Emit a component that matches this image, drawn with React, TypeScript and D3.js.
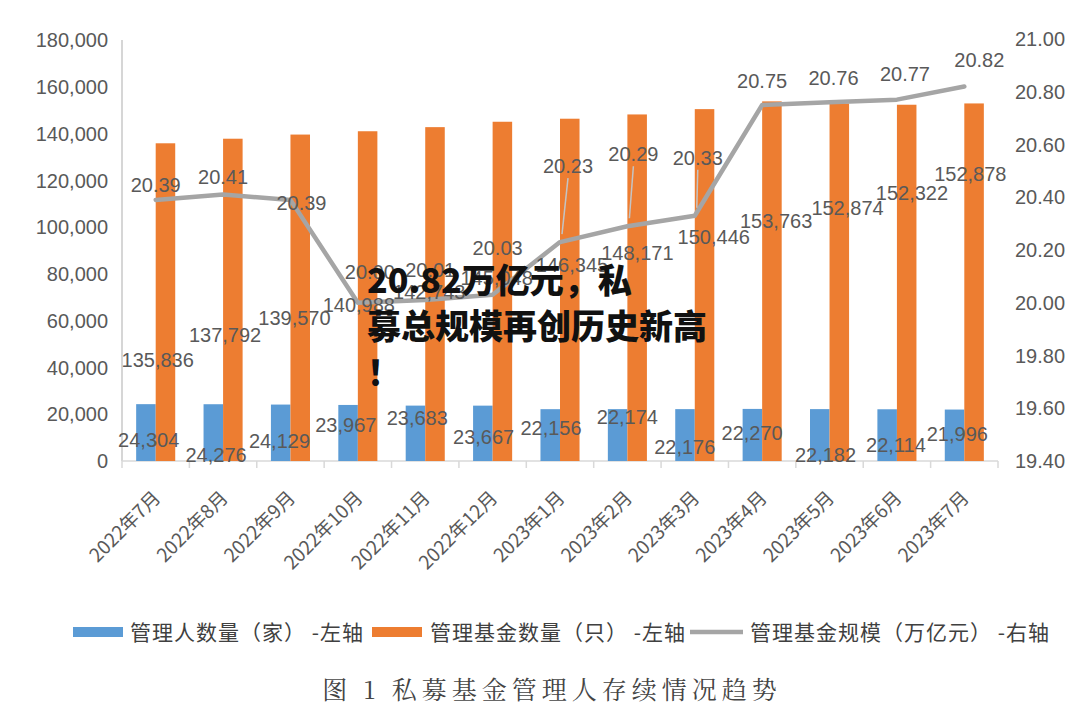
import React from 'react';
import * as d3 from 'd3';

// categories and series
const categories = [
  '2022年7月', '2022年8月', '2022年9月', '2022年10月', '2022年11月', '2022年12月',
  '2023年1月', '2023年2月', '2023年3月', '2023年4月', '2023年5月', '2023年6月', '2023年7月',
];
const managerCounts = [24304, 24276, 24129, 23967, 23683, 23667, 22156, 22174, 22176, 22270, 22182, 22114, 21996];
const fundCounts = [135836, 137792, 139570, 140988, 142743, 145048, 146345, 148171, 150446, 153763, 152874, 152322, 152878];
const fundScale = [20.39, 20.41, 20.39, 20.0, 20.01, 20.03, 20.23, 20.29, 20.33, 20.75, 20.76, 20.77, 20.82];

const leftTicks = [0, 20000, 40000, 60000, 80000, 100000, 120000, 140000, 160000, 180000];
const rightTicks = [19.4, 19.6, 19.8, 20.0, 20.2, 20.4, 20.6, 20.8, 21.0];

const legendNames = ['管理人数量（家） -左轴', '管理基金数量（只） -左轴', '管理基金规模（万亿元） -右轴'];
const titleLines = ['20.82万亿元，私', '募总规模再创历史新高', '！'];
const caption = '图 1  私募基金管理人存续情况趋势';

// data-label nudges (dx, dy) from each mark, like Excel's hand-placed labels
const lineLabelNudge: [number, number][] = [
  [0, -15], [0, -18], [11, 3], [12, -31], [5, -30], [5, -47], [8, -76], [6, -72], [3, -58],
  [0, -24], [4, -25], [8, -26], [15, -27],
];
const fundLabelNudge: [number, number][] = [
  [2, 217], [2, 196], [4, 183], [1, 174], [4, 165], [4, 156], [12, 146], [10, 138], [19, 128],
  [14, 119], [18, 104], [15, 88], [6, 70],
];
const managerLabelNudge: [number, number][] = [
  [-7, 36], [-7, 51], [-11, 36], [-12, 20], [-8, 12], [-9, 31], [-9, 19], [0, 8], [-10, 38],
  [-10, 24], [-4, 46], [-1, 36], [-7, 24],
];
const leaderLines = [6, 7, 8];

const BLUE = '#5B9BD5';
const ORANGE = '#ED7D31';
const GRAY = '#A5A5A5';
const TEXT = '#595959';
const NUM_FONT = '"Liberation Sans", Arial, sans-serif';
const CJK_FONT = '"Noto Sans CJK SC", "Noto Sans", sans-serif';

export default function App() {
  const width = 1080;
  const height = 713;
  const plot = { left: 122, right: 998, top: 40, bottom: 461 };

  const x = d3.scaleBand<string>().domain(categories).range([plot.left, plot.right]);
  const inner = d3.scaleBand<string>().domain(['m', 'f']).range([0, x.bandwidth()]).paddingOuter(0.725);
  const yL = d3.scaleLinear().domain([0, 180000]).range([plot.bottom, plot.top]);
  const yR = d3.scaleLinear().domain([19.4, 21.0]).range([plot.bottom, 39]);

  const cx = (c: string) => (x(c) || 0) + x.bandwidth() / 2;
  const line = d3.line<number>()
    .x((_, i) => cx(categories[i]))
    .y(d => yR(d));

  const fmtInt = d3.format(',');
  const fmtDec = d3.format('.2f');

  const legendX = [73, 372, 690];
  const legendTextX = [130, 430, 750];

  return (
    <div style={{ position: 'absolute', left: 0, top: 0, background: '#fff' }}>
      <svg width={width} height={height} viewBox={`0 0 ${width} ${height}`}>
        <rect width={width} height={height} fill="#fff" />

        {/* axes */}
        <line x1={plot.left} x2={plot.left} y1={plot.top} y2={plot.bottom} stroke="#c8c8c8" strokeWidth={1.5} />
        <line x1={plot.left} x2={plot.right} y1={plot.bottom} y2={plot.bottom} stroke="#d9d9d9" strokeWidth={1.5} />
        {categories.concat(['']).map((c, i) => {
          const tx = plot.left + i * x.step();
          return <line key={'t' + i} x1={tx} x2={tx} y1={plot.bottom} y2={plot.bottom + 7} stroke="#d9d9d9" strokeWidth={1.5} />;
        })}

        {leftTicks.map(t => (
          <text key={'l' + t} x={108} y={yL(t)} dy="0.36em" textAnchor="end"
            fontFamily={NUM_FONT} fontSize={20} fill={TEXT}>{fmtInt(t)}</text>
        ))}
        {rightTicks.map(t => (
          <text key={'r' + t} x={1015} y={yR(t)} dy="0.36em" textAnchor="start"
            fontFamily={NUM_FONT} fontSize={20} fill={TEXT}>{fmtDec(t)}</text>
        ))}

        {categories.map(c => (
          <text key={'x' + c} transform={`translate(${cx(c) + 6},${499}) rotate(-45)`} textAnchor="end"
            fontFamily={CJK_FONT} fontSize={19} fill={TEXT}>{c}</text>
        ))}

        {/* bars */}
        {categories.map((c, i) => (
          <g key={'b' + c} transform={`translate(${x(c)},0)`}>
            <rect x={inner('m')} width={inner.bandwidth()} y={yL(managerCounts[i])}
              height={plot.bottom - yL(managerCounts[i])} fill={BLUE} />
            <rect x={inner('f')} width={inner.bandwidth()} y={yL(fundCounts[i])}
              height={plot.bottom - yL(fundCounts[i])} fill={ORANGE} />
          </g>
        ))}

        {/* scale line */}
        <path d={line(fundScale) || ''} fill="none" stroke={GRAY} strokeWidth={4.5}
          strokeLinejoin="round" strokeLinecap="round" />

        {leaderLines.map(i => {
          const px = cx(categories[i]);
          const py = yR(fundScale[i]);
          const [dx, dy] = lineLabelNudge[i];
          return <line key={'ll' + i} x1={px + dx} y1={py + dy + 12} x2={px + 2} y2={py - 8}
            stroke="#c4c4c4" strokeWidth={1.5} />;
        })}

        {/* data labels */}
        {categories.map((c, i) => (
          <g key={'dl' + c} fontFamily={NUM_FONT} fontSize={20} fill={TEXT} textAnchor="middle">
            <text x={cx(c) + managerLabelNudge[i][0]} y={yL(managerCounts[i]) + managerLabelNudge[i][1]} dy="0.36em">
              {fmtInt(managerCounts[i])}
            </text>
            <text x={cx(c) + fundLabelNudge[i][0]} y={yL(fundCounts[i]) + fundLabelNudge[i][1]} dy="0.36em">
              {fmtInt(fundCounts[i])}
            </text>
            <text x={cx(c) + lineLabelNudge[i][0]} y={yR(fundScale[i]) + lineLabelNudge[i][1]} dy="0.36em">
              {fmtDec(fundScale[i])}
            </text>
          </g>
        ))}

        {/* overlaid headline */}
        {titleLines.map((t, i) => (
          <text key={'h' + i} x={367} y={293 + i * 46} fontFamily={CJK_FONT} fontWeight={900}
            fontSize={34} fill="#111">{t}</text>
        ))}

        {/* legend */}
        {legendNames.map((name, i) => (
          <g key={'lg' + i}>
            {i < 2 ? (
              <rect x={legendX[i]} y={627} width={50} height={10} fill={i === 0 ? BLUE : ORANGE} />
            ) : (
              <line x1={legendX[i]} x2={legendX[i] + 53} y1={632} y2={632} stroke={GRAY} strokeWidth={4.5} />
            )}
            <text x={legendTextX[i]} y={632} dy="0.36em" fontFamily={CJK_FONT} fontSize={21}
              letterSpacing={1} fill="#404040">{name}</text>
          </g>
        ))}

        <text x={552} y={699} textAnchor="middle" fontFamily={'"Noto Serif CJK SC", serif'} fontSize={25}
          letterSpacing={5} fill="#444">{caption}</text>
      </svg>
    </div>
  );
}
